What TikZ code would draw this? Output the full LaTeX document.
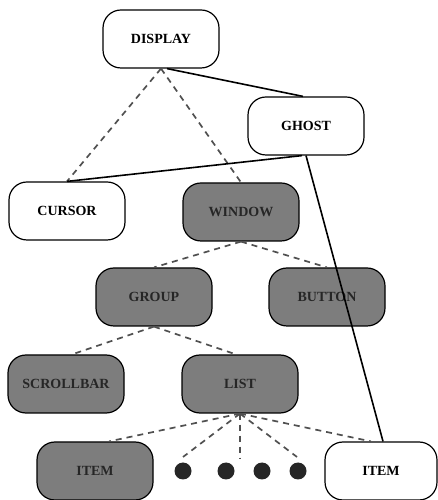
\documentclass[tikz,border=0pt]{standalone}
\usepackage{fontspec}
\setmainfont{Liberation Serif}
\definecolor{boxgray}{RGB}{125,125,125}
\definecolor{dashgray}{RGB}{80,80,80}
\begin{document}
\begin{tikzpicture}[x=1pt,y=1pt,
  obj/.style={draw=black, line width=1.2pt, rounded corners=18pt,
    minimum width=116pt, minimum height=58pt, inner sep=0pt,
    font=\fontsize{14}{16}\selectfont\bfseries, fill=white},
  shaded/.style={obj, fill=boxgray, text=black!85},
  dashlink/.style={draw=dashgray, line width=1.7pt, dash pattern=on 6pt off 5pt},
  solidlink/.style={draw=black, line width=1.6pt},
  dotnode/.style={circle, fill=black!85, minimum size=17pt, inner sep=0pt}]
\useasboundingbox (0,0) rectangle (438,500);
% nodes
\node[obj] (display) at (161,461) {DISPLAY};
\node[obj] (ghost) at (306,374) {GHOST};
\node[obj] (cursor) at (67,289) {CURSOR};
\node[shaded] (window) at (241,288) {WINDOW};
\node[shaded] (group) at (154,203) {GROUP};
\node[shaded] (button) at (327,203) {BUTTON};
\node[shaded] (scrollbar) at (66,116) {SCROLLBAR};
\node[shaded] (list) at (240,116) {LIST};
\node[shaded] (iteml) at (95,29) {ITEM};
\node[obj, minimum width=112pt] (itemr) at (381,29) {ITEM};
\node[dotnode] (d1) at (183,29) {};
\node[dotnode] (d2) at (226,29) {};
\node[dotnode] (d3) at (262,29) {};
\node[dotnode] (d4) at (298,29) {};
\coordinate (e1) at (183,43);
\coordinate (e2) at (240,42);
\coordinate (e3) at (297,43);
% dashed links
\draw[dashlink] (display.south) -- (cursor.north);
\draw[dashlink] (display.south) -- (window.north);
\draw[dashlink] (window.south) -- (group.north);
\draw[dashlink] (window.south) -- (button.north);
\draw[dashlink] (group.south) -- ([xshift=6pt]scrollbar.north);
\draw[dashlink] (group.south) -- ([xshift=-4pt]list.north);
\draw[dashlink] (list.south) -- ([xshift=14pt]iteml.north);
\draw[dashlink] (list.south) -- (e1);
\draw[dashlink] (list.south) -- (e2);
\draw[dashlink] (list.south) -- (e3);
\draw[dashlink] (list.south) -- ([xshift=-10pt]itemr.north);
% solid links
\draw[solidlink] ([xshift=6pt]display.south) -- ([xshift=-3pt]ghost.north);
\draw[solidlink] ([xshift=-4pt]ghost.south) -- (cursor.north);
\draw[solidlink] (ghost.south) -- ([xshift=2pt]itemr.north);
\end{tikzpicture}
\end{document}
